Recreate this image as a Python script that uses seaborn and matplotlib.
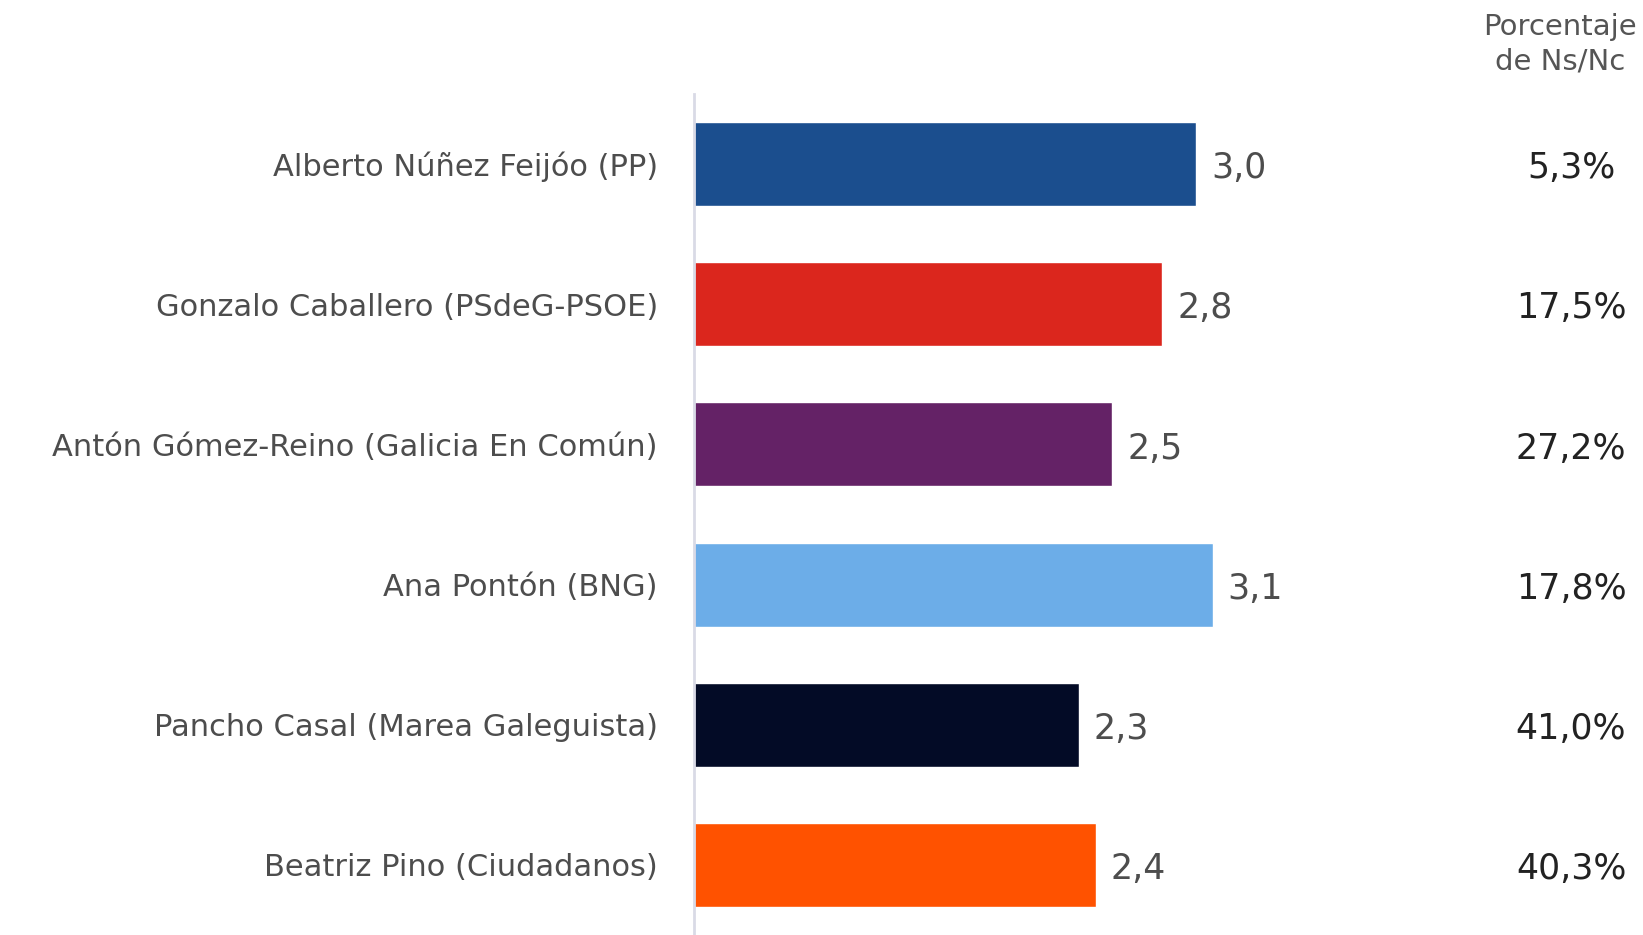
import matplotlib
matplotlib.use("Agg")
import matplotlib.pyplot as plt
import matplotlib.transforms as mtransforms
import seaborn as sns
import pandas as pd

candidates = [
    "Alberto Núñez Feijóo (PP)",
    "Gonzalo Caballero (PSdeG-PSOE)",
    "Antón Gómez-Reino (Galicia En Común)",
    "Ana Pontón (BNG)",
    "Pancho Casal (Marea Galeguista)",
    "Beatriz Pino (Ciudadanos)",
]
ratings = [3.0, 2.8, 2.5, 3.1, 2.3, 2.4]
nsnc = ["5,3%", "17,5%", "27,2%", "17,8%", "41,0%", "40,3%"]
colors = ["#1B4E8E", "#DB261D", "#642266", "#6CADE8", "#030B26", "#FF5200"]
header = "Porcentaje\nde Ns/Nc"

sns.set_style("white")
plt.rcParams["font.family"] = ["DejaVu Sans"]

df = pd.DataFrame({"cand": candidates, "val": ratings})

W, H = 1643, 935
fig = plt.figure(figsize=(W / 100, H / 100), dpi=100)
ax_left = 694 / W
ax_top = 1 - 94 / H
ax = fig.add_axes([ax_left, 0, 1 - ax_left, ax_top])

sns.barplot(data=df, y="cand", x="val", hue="cand", palette=colors,
            orient="h", width=0.6, legend=False, ax=ax, saturation=1)

ax.set_xlim(0, (W - 694) / 167.3)
ax.set_ylim(5.5, -0.5)
ax.set_xlabel("")
ax.set_ylabel("")
ax.set_xticks([])
for s in ["top", "right", "bottom"]:
    ax.spines[s].set_visible(False)
ax.spines["left"].set_color("#D9DAE6")
ax.spines["left"].set_linewidth(2)

ax.tick_params(axis="y", length=0, pad=26, labelsize=22, labelcolor="#4D4D4D")

for i, v in enumerate(ratings):
    ax.text(v + 15 / 167.3, i + 0.03, f"{v:.1f}".replace(".", ","),
            va="center", ha="left", fontsize=25, color="#4D4D4D")

trans = mtransforms.blended_transform_factory(ax.transAxes, ax.transData)
xpos = (1571 - 694) / (W - 694)
for i, p in enumerate(nsnc):
    ax.text(xpos, i + 0.03, p, transform=trans, va="center", ha="center",
            fontsize=25, color="#222222")

fig.text(1560 / W, 1 - 44 / H, header, ha="center", va="center",
         multialignment="center", fontsize=21, color="#555555", linespacing=1.3)

fig.savefig("out.png", dpi=100)
